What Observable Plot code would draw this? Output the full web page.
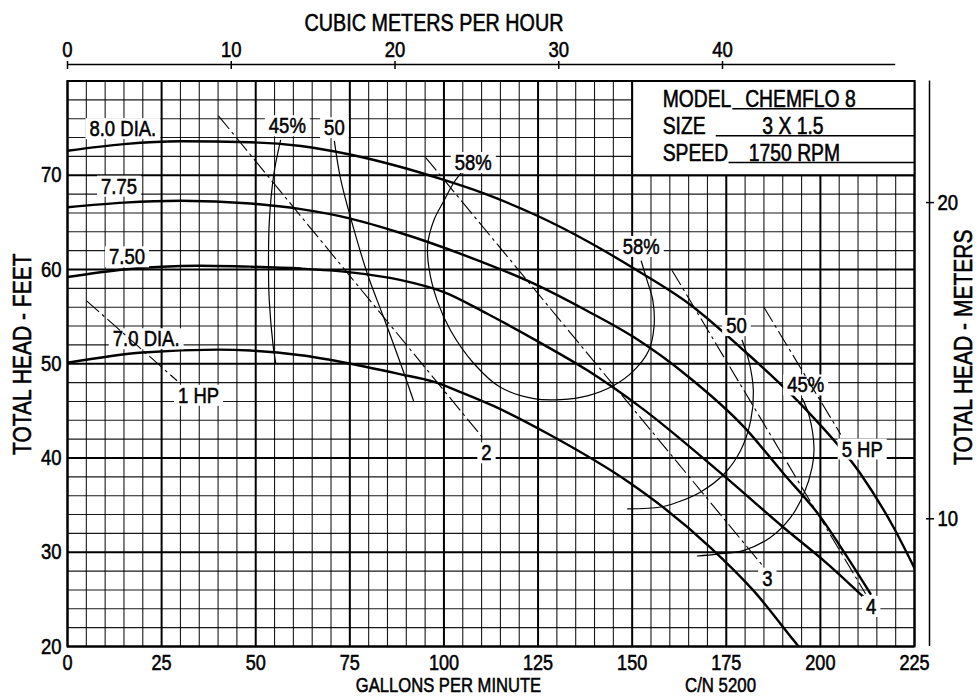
<!DOCTYPE html>
<html><head><meta charset="utf-8">
<script src="https://cdn.jsdelivr.net/npm/d3@7"></script>
<script src="https://cdn.jsdelivr.net/npm/@observablehq/plot@0.6"></script>
<style>
html,body{margin:0;padding:0;background:#fff;}
svg{display:block;}
svg text{stroke:#000;stroke-width:0.55px;}
</style></head><body>
<div id="chart"></div>
<script>
// ---------------- data ----------------
const gpmTicks = [0, 25, 50, 75, 100, 125, 150, 175, 200, 225];
const feetTicks = [20, 30, 40, 50, 60, 70];
const m3hTicks = [0, 10, 20, 30, 40];
const meterTicks = [10, 20];

// head-capacity curves per impeller diameter  [gpm, feet]
const head80 = [[0,72.6],[15,73.3],[30,73.6],[48.6,73.5],[62,73.1],[75,72.2],[88.3,70.9],[100,69.5],[109.7,68.2],[124.8,65.7],[138.1,63.0],[150.5,60.1],[165,56.4],[179.7,51.4],[196.5,45.0],[210.7,38.3],[219.5,32.6],[225,28.3]];
const head775 = [[0,66.6],[15,67.1],[30,67.3],[48.6,67.0],[62,66.4],[75.2,65.4],[88.3,63.9],[106.2,61.4],[123.9,58.5],[138.1,55.6],[150.5,52.8],[165,48.6],[179.7,43.3],[190.3,38.3],[200.1,33.7],[207.1,29.5],[213.3,25.6]];
const head750 = [[0,59.2],[15,60.0],[35,60.4],[48.6,60.3],[62,60.1],[75.2,59.7],[88.3,58.9],[100,57.6],[111.5,55.3],[124.8,52.4],[138.1,49.3],[152.2,45.4],[174.4,38.1],[190.3,32.6],[201.8,28.8],[211.6,25.2]];
const head70 = [[0,50.1],[20,51.2],[40,51.5],[48.6,51.4],[62,50.9],[75.2,50.0],[88.3,48.9],[97.2,48.1],[104.4,47.0],[113.3,45.5],[127.5,42.6],[149.6,37.3],[157.5,35.0],[170.8,30.5],[182.3,25.9],[193.0,20.6],[195,19.6]];
const diameterNames = ["8.0", "7.75", "7.50", "7.0"];

// efficiency curves [gpm, feet]
const eff45Left = [[56.6,73.7],[54.8,70.1],[53.6,65],[53.4,60],[53.6,56.7],[54.6,52],[55.3,50.1]];
const eff50Left = [[70.9,73.6],[72.5,69.7],[75.2,65.5],[79.7,59.5],[84.0,54.9],[88.5,50.0],[91.9,46.1]];
const eff58 = [[104.7,70.3],[102.6,69.2],[100.0,67.3],[97.3,65.2],[95.7,62.7],[96.0,60.2],[98.2,56.7],[101.8,53.5],[108.0,50.0],[115.0,47.5],[123.9,46.3],[131.0,46.2],[138.1,46.6],[145.1,47.7],[150.5,49.3],[154.4,51.4],[155.8,53.9],[155.5,56.7],[154.0,58.8],[152.4,60.9]];
const eff50Right = [[179.2,52.5],[181.0,50.3],[182.2,47.1],[181.5,44.0],[178.8,40.8],[174.4,38.3],[168.2,36.4],[162.0,35.3],[157.6,34.8],[148.8,34.6]];
const eff45Right = [[195.2,46.3],[197.0,44.5],[198.3,41.1],[197.8,39.0],[195.6,36.2],[192.1,33.7],[186.8,31.6],[179.7,30.2],[172.6,29.8],[167.3,29.6]];

// horsepower lines
const hpNames = ["1 HP", "2", "3", "4", "5 HP"];
const hpStartGpm = [5.0, 40.1, 95.1, 160.6, 185.0];
const hpStartFt = [56.7, 76.3, 71.9, 59.9, 56.0];
const hpEndGpm = [29.1, 110.2, 184.6, 212.0, 205.4];
const hpEndFt = [48.2, 42.2, 28.6, 25.6, 42.5];

// curve labels
const labelTexts = ["8.0 DIA.", "7.75", "7.50", "7.0 DIA.", "45%", "50", "58%", "58%", "50", "45%", "1 HP", "2", "3", "4", "5 HP"];
const labelGpm = [14.7, 13.7, 15.8, 20.9, 58.4, 70.9, 107.8, 152.4, 177.7, 196.1, 34.8, 111.3, 185.9, 213.5, 211.1];
const labelFt = [74.9, 68.8, 61.3, 52.6, 75.2, 75.0, 71.3, 62.4, 54.0, 47.7, 46.6, 40.5, 27.2, 24.2, 40.9];

// info block
const infoLabels = ["MODEL", "SIZE", "SPEED"];
const infoValues = ["CHEMFLO 8", "3 X 1.5", "1750 RPM"];

const gpmPerM3h = 4.35;     // top axis conversion as drawn
const ftPerMeter = 3.355;   // right axis conversion as drawn

// ---------------- layout ----------------
const FONT = '"Liberation Sans",Arial,Helvetica,sans-serif';
const LABEL_FILL = "#000001";
const toRows = (pts, id) => pts.map(([gpm, ft]) => ({id, gpm, ft}));
const headRows = [head80, head775, head750, head70].flatMap((p, i) => toRows(p, diameterNames[i]));
const effRows = [eff45Left, eff50Left, eff58, eff50Right, eff45Right].flatMap((p, i) => toRows(p, "e" + i));
const hpRows = hpNames.map((n, i) => ({n, x1: hpStartGpm[i], y1: hpStartFt[i], x2: hpEndGpm[i], y2: hpEndFt[i]}));
const labelRows = labelTexts.map((t, i) => ({t, gpm: labelGpm[i], ft: labelFt[i]}));

const box = {x1: 150, x2: 225, y1: 70, y2: 80};
const rowFt = infoLabels.map((_, i) => 77.25 - i * 2.85);
const infoLabelGpm = 158.1;
const infoValueGpm = [194.7, 192.7, 193.1];
const underlineStart = [176.6, 172.2, 175.6];
const infoRows = infoLabels.map((l, i) => ({l, v: infoValues[i], ft: rowFt[i], vx: infoValueGpm[i], u: underlineStart[i]}));

const minorX = d3.range(0, 226, 5).filter(v => v % 25 !== 0);
const minorY = d3.range(20, 81, 2).filter(v => v % 10 !== 0);

const plot = Plot.plot({
  width: 979,
  height: 696,
  marginLeft: 67,
  marginRight: 65,
  marginTop: 80.5,
  marginBottom: 50,
  style: {fontFamily: FONT, fontSize: "22px", color: "#000", background: "#fff", overflow: "visible"},
  x: {domain: [0, 225], axis: null},
  y: {domain: [20, 80], axis: null},
  marks: [
    // grid
    Plot.ruleX(minorX, {stroke: "#000", strokeWidth: 1.1, strokeOpacity: 0.9}),
    Plot.ruleY(minorY, {stroke: "#000", strokeWidth: 1.1, strokeOpacity: 0.9}),
    Plot.ruleX(gpmTicks, {stroke: "#000", strokeWidth: 2}),
    Plot.ruleY(feetTicks, {stroke: "#000", strokeWidth: 2}),
    // info box (blank area)
    Plot.rect([box], {x1: "x1", x2: "x2", y1: "y1", y2: "y2", fill: "#fff"}),
    Plot.ruleX([box.x1], {y1: box.y1, y2: box.y2, strokeWidth: 2}),
    Plot.ruleY([box.y1], {x1: box.x1, x2: box.x2, strokeWidth: 2}),
    // curves
    Plot.line(headRows, {x: "gpm", y: "ft", z: "id", curve: "monotone-x", stroke: "#000", strokeWidth: 2.4, clip: true}),
    Plot.line(effRows, {x: "gpm", y: "ft", z: "id", curve: "catmull-rom", stroke: "#000", strokeWidth: 1.2}),
    // labels
    Plot.text(labelRows, {x: "gpm", y: "ft", text: "t", fontSize: 22, fill: LABEL_FILL}),
    // horsepower lines
    Plot.link(hpRows, {x1: "x1", y1: "y1", x2: "x2", y2: "y2", stroke: "#000", strokeWidth: 1.1, strokeDasharray: "17,4,3,4"}),
    Plot.frame({stroke: "#000", strokeWidth: 2}),
    // info text
    Plot.text(infoRows, {x: infoLabelGpm, y: "ft", text: "l", textAnchor: "start", lineAnchor: "bottom", fontSize: 23, fill: "#000"}),
    Plot.text(infoRows, {x: "vx", y: "ft", text: "v", textAnchor: "middle", lineAnchor: "bottom", fontSize: 23, fill: "#000"}),
    Plot.link(infoRows, {x1: "u", x2: box.x2, y1: d => d.ft - 0.2, y2: d => d.ft - 0.2, stroke: "#000", strokeWidth: 1.5}),
    // axes
    Plot.axisX(gpmTicks, {anchor: "bottom", tickSize: 0, tickPadding: 8, fontSize: 21.5}),
    Plot.axisY(feetTicks, {anchor: "left", tickSize: 0, tickPadding: 6, fontSize: 22}),
    Plot.ruleY([box.y2], {x1: 0, x2: 220, dy: -16.5, stroke: "#000", strokeWidth: 1.5}),
    Plot.axisX(m3hTicks.map(d => d * gpmPerM3h), {anchor: "top", tickSize: 8, dy: -12.5, tickPadding: 4, fontSize: 22, strokeWidth: 1.5, tickFormat: d => String(Math.round(d / gpmPerM3h))}),
    Plot.ruleX([225], {y1: 20, y2: 80, dx: 15, stroke: "#000", strokeWidth: 1.5}),
    Plot.axisY(meterTicks.map(d => d * ftPerMeter), {anchor: "right", tickSize: 8, dx: 11, tickPadding: 4, fontSize: 22, strokeWidth: 1.5, tickFormat: d => String(Math.round(d / ftPerMeter))}),
    // titles
    Plot.text(["CUBIC METERS PER HOUR"], {frameAnchor: "top", textAnchor: "middle", lineAnchor: "middle", dx: -57, dy: -57.5, fontSize: 23.5, fill: "#000"}),
    Plot.text(["GALLONS PER MINUTE"], {frameAnchor: "bottom", textAnchor: "middle", lineAnchor: "middle", dx: -42.5, dy: 39, fontSize: 21, fill: "#000"}),
    Plot.text(["C/N 5200"], {frameAnchor: "bottom", textAnchor: "middle", lineAnchor: "middle", dx: 229.5, dy: 39, fontSize: 21, fill: "#000"}),
    Plot.text(["TOTAL HEAD - FEET"], {frameAnchor: "left", textAnchor: "middle", lineAnchor: "middle", dx: -45, dy: -9.5, rotate: -90, fontSize: 25, fill: "#000"}),
    Plot.text(["TOTAL HEAD - METERS"], {frameAnchor: "right", textAnchor: "middle", lineAnchor: "middle", dx: 49.5, dy: -16.5, rotate: -90, fontSize: 25, fill: "#000"})
  ]
});
document.getElementById("chart").append(plot);

// narrow the lettering (the original uses a condensed drafting face)
const squeeze = {"GALLONS PER MINUTE": 0.79, "C/N 5200": 0.8};
plot.querySelectorAll("text").forEach(t => {
  const len = t.getComputedTextLength();
  if (len > 0) {
    const k = squeeze[t.textContent] || 0.84;
    t.setAttribute("textLength", (len * k).toFixed(2));
    t.setAttribute("lengthAdjust", "spacingAndGlyphs");
  }
});

// white backing boxes behind the curve labels (they cut the grid like the original)
plot.querySelectorAll(`g[fill="${LABEL_FILL}"] text`).forEach(t => {
  const b = t.getBBox();
  const r = document.createElementNS("http://www.w3.org/2000/svg", "rect");
  const padX = 4, padY = 2;
  r.setAttribute("x", b.x - padX);
  r.setAttribute("y", b.y + padY);
  r.setAttribute("width", b.width + 2 * padX);
  r.setAttribute("height", b.height - 2 * padY);
  r.setAttribute("fill", "#fff");
  r.setAttribute("stroke", "none");
  if (t.getAttribute("transform")) r.setAttribute("transform", t.getAttribute("transform"));
  t.parentNode.insertBefore(r, t);
});
</script>
</body></html>
